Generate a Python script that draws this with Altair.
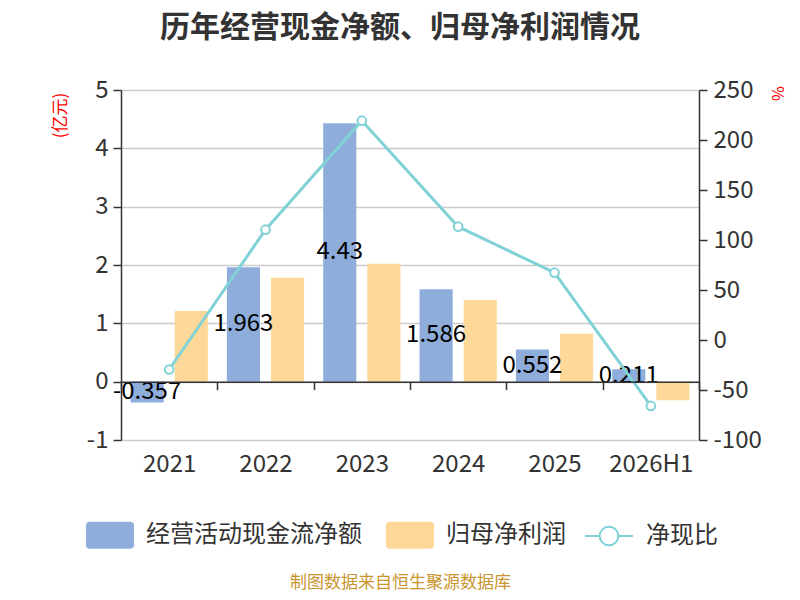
import altair as alt
import pandas as pd

years = ["2021", "2022", "2023", "2024", "2025", "2026H1"]
cash = [-0.357, 1.963, 4.43, 1.586, 0.552, 0.211]
cash_labels = ["-0.357", "1.963", "4.43", "1.586", "0.552", "0.211"]
profit = [1.21, 1.78, 2.02, 1.40, 0.82, -0.32]
ratio = [-29.5, 110.3, 219.3, 113.3, 67.3, -65.9]
bar_series = ["经营活动现金流净额", "归母净利润"]
line_series = ["净现比"]
bar_colors = ["#8eaddb", "#fed898"]
line_colors = ["#80d2d6"]
left_ticks = [-1, 0, 1, 2, 3, 4, 5]
right_ticks = [-100, -50, 0, 50, 100, 150, 200, 250]

FONT = "Noto Sans CJK SC"
RECT = "M-0.86,-0.56H0.86A0.14,0.14 0 0 1 1,-0.42V0.42A0.14,0.14 0 0 1 0.86,0.56H-0.86A0.14,0.14 0 0 1 -1,0.42V-0.42A0.14,0.14 0 0 1 -0.86,-0.56Z"
LINESYM = "M-1,0H-0.39M0.39,0H1M0.39,0A0.39,0.39 0 1 1 -0.39,0A0.39,0.39 0 1 1 0.39,0"

bars_df = pd.DataFrame({
    "year": years * 2,
    "series": [bar_series[0]] * len(years) + [bar_series[1]] * len(years),
    "value": cash + profit,
})
label_df = pd.DataFrame({"year": years, "series": bar_series[0], "value": cash, "label": cash_labels})
line_df = pd.DataFrame({"year": years, "series": line_series[0], "ratio": ratio})

x_enc = alt.X(
    "year:N", sort=years,
    scale=alt.Scale(paddingInner=0, paddingOuter=0),
    axis=alt.Axis(
        orient="bottom", offset=-58.333, labelAngle=0,
        labelFontSize=24, labelColor="#333", labelFont=FONT, labelPadding=63,
        tickBand="extent", tickSize=8, tickWidth=1.5, tickColor="#333",
        domainColor="#333", domainWidth=1.5, zindex=1,
        title="制图数据来自恒生聚源数据库", titleColor="#c9952f", titleFontSize=17,
        titleFontWeight="normal", titleFont=FONT, titleX=279, titleY=201,
        titleAlign="center", titleBaseline="middle",
    ),
)
xoff_enc = alt.XOffset("series:N", scale=alt.Scale(domain=bar_series, paddingInner=0.25, paddingOuter=0.216))

left_axis = alt.Axis(
    values=left_ticks, labelExpr="datum.value + ''",
    grid=True, gridColor="#cccccc", gridWidth=1.5,
    domainColor="#333", domainWidth=1.5, tickColor="#333", tickSize=8, tickWidth=1.5,
    labelFontSize=24, labelColor="#333", labelFont=FONT, labelPadding=5,
    title="(亿元)", titleColor="red", titleFontSize=17, titleFontWeight="normal", titleFont=FONT,
    titleAngle=270, titleX=-61, titleY=25, titleAlign="center", titleBaseline="middle",
)
left_scale = alt.Scale(domain=[-1, 5], nice=False, zero=False)

bar_legend = alt.Legend(
    orient="none", legendX=-35, legendY=421, direction="horizontal", columns=2,
    title=None, symbolType=RECT, symbolSize=2304, symbolStrokeWidth=0, symbolOpacity=1,
    labelFontSize=24, labelColor="#333", labelFont=FONT, labelLimit=400,
    labelOffset=12, columnPadding=24, padding=0,
)
line_legend = alt.Legend(
    orient="none", legendX=463, legendY=421, direction="horizontal",
    title=None, symbolType=LINESYM, symbolSize=2304, symbolStrokeWidth=2,
    symbolFillColor="white", symbolOpacity=1,
    labelFontSize=24, labelColor="#333", labelFont=FONT, labelLimit=400,
    labelOffset=12, padding=0,
)

bars = alt.Chart(bars_df).mark_bar().encode(
    x=x_enc, xOffset=xoff_enc,
    y=alt.Y("value:Q", scale=left_scale, axis=left_axis),
    color=alt.Color("series:N", scale=alt.Scale(domain=bar_series, range=bar_colors), legend=bar_legend),
)
texts = alt.Chart(label_df).transform_calculate(mid="datum.value / 2").mark_text(
    fontSize=24, color="black", font=FONT, align="center", baseline="middle"
).encode(
    x=x_enc, xOffset=xoff_enc,
    y=alt.Y("mid:Q", scale=left_scale, axis=left_axis),
    text="label:N",
)

right_axis = alt.Axis(
    orient="right", values=right_ticks, labelExpr="datum.value + ''", grid=False,
    domainColor="#333", domainWidth=1.5, tickColor="#333", tickSize=8, tickWidth=1.5,
    labelFontSize=24, labelColor="#333", labelFont=FONT, labelPadding=6,
    title="%", titleColor="red", titleFontSize=16, titleFontWeight="normal", titleFont=FONT,
    titleAngle=90, titleX=77, titleY=3, titleAlign="center", titleBaseline="middle",
)
right_scale = alt.Scale(domain=[-100, 250], nice=False, zero=False)

line = alt.Chart(line_df).mark_line(strokeWidth=3).encode(
    x=x_enc,
    y=alt.Y("ratio:Q", scale=right_scale, axis=right_axis),
    stroke=alt.Stroke("series:N", scale=alt.Scale(domain=line_series, range=line_colors), legend=line_legend),
)
points = alt.Chart(line_df).mark_point(filled=True, size=75, opacity=1).encode(
    x=x_enc,
    y=alt.Y("ratio:Q", scale=right_scale, axis=right_axis),
    fill=alt.value("white"),
    stroke=alt.value("#80d2d6"),
    strokeWidth=alt.value(2),
)

chart = alt.layer(
    alt.layer(bars, texts),
    alt.layer(line, points),
).resolve_scale(y="independent").properties(
    width=578, height=350,
    autosize=alt.AutoSizeParams(type="none"),
    padding={"left": 113, "top": 82, "right": 93, "bottom": 152},
    title=alt.TitleParams(
        text="历年经营现金净额、归母净利润情况", fontSize=30, fontWeight="bold",
        color="#333", font=FONT, anchor="middle", dx=-10, offset=35,
    ),
).configure_view(stroke=None).configure(font=FONT)

chart.save("out.html", embed_options={"renderer": "svg", "actions": False})
